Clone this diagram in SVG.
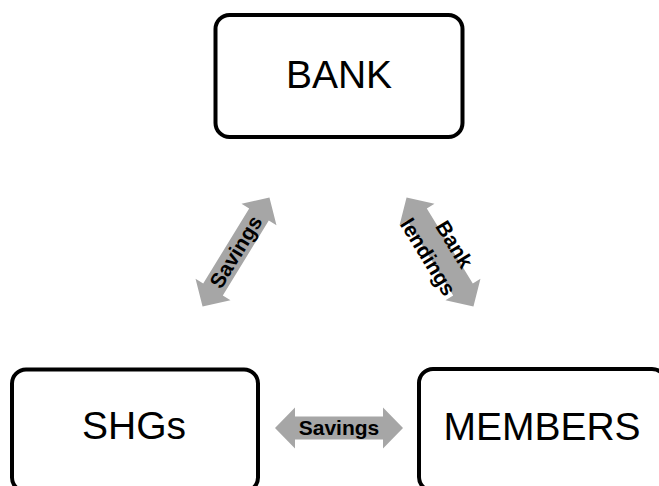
<svg xmlns="http://www.w3.org/2000/svg" xmlns:xlink="http://www.w3.org/1999/xlink" width="659" height="486" viewBox="0 0 659 486">
<style>
.box{fill:#ffffff;stroke:#000000;stroke-width:4}
.big{font-family:"Liberation Sans",Arial,sans-serif;font-size:39px;fill:#000000;text-anchor:middle}
.lbl{font-family:"Liberation Sans",Arial,sans-serif;font-size:21px;font-weight:bold;fill:#000000;text-anchor:middle}
.arr{fill:#a6a6a6}
</style>
<defs>
<path id="dbl" class="arr" d="M-64,0 L-44,-20.5 L-44,-11.5 L44,-11.5 L44,-20.5 L64,0 L44,20.5 L44,11.5 L-44,11.5 L-44,20.5 Z"/>
</defs>
<rect width="659" height="486" fill="#ffffff"/>
<g id="connectors">
<g id="bank-shgs" transform="translate(236,252) rotate(-58.5)">
<use xlink:href="#dbl"/>
<text class="lbl" x="0" y="7">Savings</text>
</g>
<g id="bank-members" transform="translate(440,252) rotate(58.5)">
<use xlink:href="#dbl"/>
<text class="lbl" x="1" y="-9">Bank</text>
<text class="lbl" x="-2" y="20">lendings</text>
</g>
<g id="shgs-members" transform="translate(339,428)">
<use xlink:href="#dbl"/>
<text class="lbl" x="0" y="7">Savings</text>
</g>
</g>
<g id="bank">
<rect class="box" x="215.5" y="15" width="247" height="122" rx="14"/>
<text class="big" x="339" y="88">BANK</text>
</g>
<g id="shgs">
<rect class="box" x="12" y="369.5" width="246" height="122" rx="14"/>
<text class="big" x="134" y="439">SHGs</text>
</g>
<g id="members">
<rect class="box" x="419" y="369" width="247" height="122" rx="14"/>
<text class="big" x="542" y="440">MEMBERS</text>
</g>
</svg>
